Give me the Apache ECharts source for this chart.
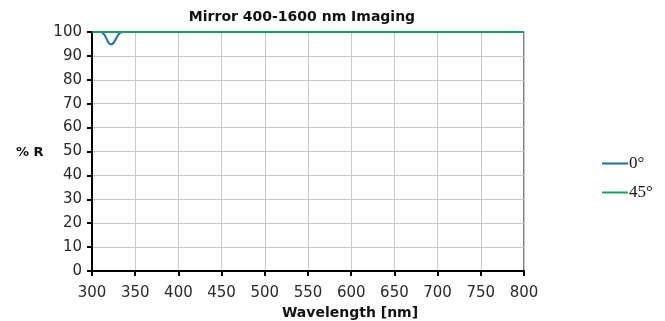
<!DOCTYPE html>
<html>
<head>
<meta charset="utf-8">
<script src="https://cdn.jsdelivr.net/npm/echarts@6/dist/echarts.min.js"></script>
<style>
  html, body { margin: 0; padding: 0; background: #fff; }
  #chart { width: 665px; height: 321px; }
</style>
</head>
<body>
<div id="chart"></div>
<script>
// wavelength samples (nm)
const wavelengths = [300, 305, 310, 313, 316, 319, 322, 325, 328, 331, 334, 337, 340, 350, 400, 450, 500, 550, 600, 650, 700, 750, 800];
// reflectance at 0 degrees (%)
const r0 = [100, 100, 100, 99.5, 97.8, 95.6, 94.8, 95.5, 97.3, 99.1, 99.9, 100, 100, 100, 100, 100, 100, 100, 100, 100, 100, 100, 100];
// reflectance at 45 degrees (%)
const r45 = [100, 100, 100, 100, 100, 100, 100, 100, 100, 100, 100, 100, 100, 100, 100, 100, 100, 100, 100, 100, 100, 100, 100];
const seriesNames = ['0°', '45°'];

const pairs = (ys) => wavelengths.map((x, i) => [x, ys[i]]);

const chart = echarts.init(document.getElementById('chart'));
const font = 'DejaVu Sans';

chart.setOption({
  animation: false,
  title: [
    {
      text: 'Mirror 400-1600 nm Imaging',
      left: 297, top: 5, textAlign: 'center',
      textStyle: { fontFamily: font, fontSize: 14, fontWeight: 'bold', color: '#111' }
    },
    {
      text: 'Wavelength [nm]',
      left: 345, top: 301, textAlign: 'center',
      textStyle: { fontFamily: font, fontSize: 14, fontWeight: 'bold', color: '#111' }
    },
    {
      text: '% R',
      left: 11, top: 141,
      textStyle: { fontFamily: font, fontSize: 13, fontWeight: 'bold', color: '#111' }
    }
  ],
  legend: {
    orient: 'vertical',
    left: 597, top: 150,
    icon: 'rect',
    itemWidth: 26, itemHeight: 2, itemGap: 12,
    data: seriesNames,
    textStyle: { fontFamily: 'Liberation Serif', fontSize: 17, color: '#111', padding: [0, 0, 0, -4] }
  },
  grid: {
    left: 92, right: 141, top: 32, bottom: 50,
    show: true, borderColor: '#000', borderWidth: 1
  },
  xAxis: {
    type: 'value', min: 300, max: 800, interval: 50,
    axisLine: { lineStyle: { color: '#000', width: 2 } },
    axisTick: { show: true, length: 5, lineStyle: { color: '#000', width: 2 } },
    axisLabel: { fontFamily: font, fontSize: 15, color: '#2a2a2a', margin: 15 },
    splitLine: { show: true, lineStyle: { color: '#c8c8c8', width: 1 } }
  },
  yAxis: {
    type: 'value', min: 0, max: 100, interval: 10,
    axisLine: { show: true, lineStyle: { color: '#000', width: 2 } },
    axisTick: { show: true, length: 5, lineStyle: { color: '#000', width: 2 } },
    axisLabel: { fontFamily: font, fontSize: 15, color: '#2a2a2a', margin: 10 },
    splitLine: { show: true, lineStyle: { color: '#c8c8c8', width: 1 } }
  },
  series: [
    {
      name: seriesNames[0], type: 'line', symbol: 'none', smooth: 0.3,
      data: pairs(r0),
      lineStyle: { color: '#1f6db0', width: 2 },
      itemStyle: { color: '#1f6db0' }, z: 2
    },
    {
      name: seriesNames[1], type: 'line', symbol: 'none',
      data: pairs(r45),
      lineStyle: { color: '#12a35a', width: 2 },
      itemStyle: { color: '#12a35a' }, z: 3
    }
  ]
});
</script>
</body>
</html>
